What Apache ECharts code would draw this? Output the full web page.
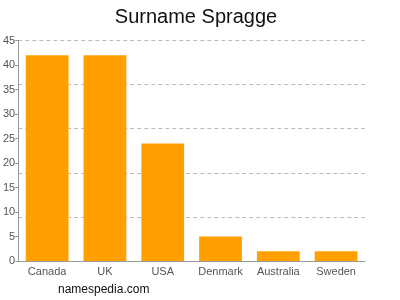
<!DOCTYPE html>
<html>
<head>
<meta charset="utf-8">
<script src="https://cdn.jsdelivr.net/npm/echarts@6/dist/echarts.min.js"></script>
<style>
  html, body { margin: 0; padding: 0; background: #fff; }
  #chart { width: 400px; height: 300px; }
</style>
</head>
<body>
<div id="chart"></div>
<script>
var countries = ['Canada', 'UK', 'USA', 'Denmark', 'Australia', 'Sweden']
var counts = [42, 42, 24, 5, 2, 2]

var chart = echarts.init(document.getElementById('chart'))
chart.setOption({
  animation: false,
  title: {
    text: 'Surname Spragge',
    left: 191,
    textAlign: 'center',
    top: 2,
    textStyle: {
      fontFamily: 'Liberation Sans',
      fontSize: 20,
      fontWeight: 'normal',
      color: '#111'
    }
  },
  graphic: [{
    type: 'text',
    left: 58,
    top: 284,
    style: {
      text: 'namespedia.com',
      fontFamily: 'Liberation Sans',
      fontSize: 12,
      fill: '#111'
    }
  }],
  grid: {
    left: 16,
    right: 35,
    top: 40.5,
    bottom: 39,
    containLabel: false
  },
  xAxis: {
    type: 'category',
    data: countries,
    axisLine: { lineStyle: { color: '#999' } },
    axisTick: { alignWithLabel: true, lineStyle: { color: '#999' } },
    axisLabel: {
      interval: 0,
      color: '#555',
      fontFamily: 'Liberation Sans',
      fontSize: 11,
      margin: 5
    }
  },
  yAxis: [{
    type: 'value',
    min: 0,
    max: 45,
    interval: 5,
    axisLine: { show: true, lineStyle: { color: '#999' } },
    axisTick: { show: true, length: 3, lineStyle: { color: '#999' } },
    axisLabel: {
      color: '#555',
      fontFamily: 'Liberation Sans',
      fontSize: 11,
      margin: 3
    },
    splitLine: { show: false }
  }, {
    // gridlines every 9 units
    type: 'value',
    min: 0,
    max: 45,
    interval: 9,
    position: 'left',
    axisLine: { show: false },
    axisTick: { show: false },
    axisLabel: { show: false },
    splitLine: {
      show: true,
      lineStyle: { color: '#bbb', type: [4, 3] }
    }
  }],
  series: [{
    type: 'bar',
    data: counts,
    barCategoryGap: '26%',
    itemStyle: { color: '#ffa000' }
  }]
})
</script>
</body>
</html>
